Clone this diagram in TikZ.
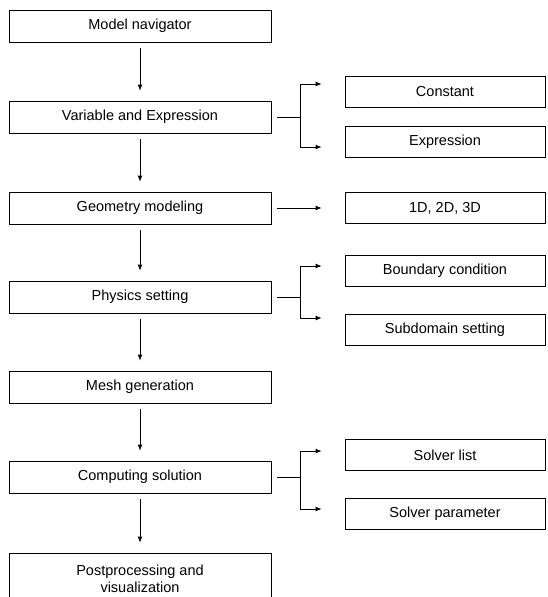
\documentclass[tikz,border=0pt]{standalone}
\usepackage{fontspec}
\setmainfont{Liberation Sans}
\usetikzlibrary{arrows.meta}

\begin{document}
\begin{tikzpicture}[x=1pt,y=-1pt,
box/.style={draw,line width=0.8pt,minimum width=262pt,minimum height=32pt,inner sep=2pt,font=\fontsize{14.5}{17}\selectfont},
sidebox/.style={box,minimum width=200pt,minimum height=31pt},
link/.style={line width=0.8pt},
arrow/.style={-{Latex[length=6pt,width=5pt]},line width=0.8pt},
down/.style={arrow,shorten <=6pt,shorten >=10pt} ]

\useasboundingbox (0,0) rectangle (547,597);

% main chain
\node[box](nav) at (140,26) {Model navigator};
\node[box](var) at (140,117) {Variable and Expression};
\node[box](geo) at (140,208) {Geometry modeling};
\node[box](phy) at (140,297) {Physics setting};
\node[box](msh) at (140,387) {Mesh generation};
\node[box](cmp) at (140,477) {Computing solution};
\node[box,minimum height=52pt,align=center](post) at (140,579) {Postprocessing and\\visualization};

% side boxes
\node[sidebox](con) at (445,92) {Constant};
\node[sidebox](expr) at (445,142) {Expression};
\node[sidebox](dim) at (445,208) {1D, 2D, 3D};
\node[sidebox](bnd) at (445,271) {Boundary condition};
\node[sidebox](sub) at (445,330) {Subdomain setting};
\node[sidebox](slv) at (445,455) {Solver list};
\node[sidebox](par) at (445,514) {Solver parameter};

\draw[down] (nav) -- (var);
\draw[down] (var) -- (geo);
\draw[down] (geo) -- (phy);
\draw[down] (phy) -- (msh);
\draw[down] (msh) -- (cmp);
\draw[down] (cmp) -- (post);

\draw[link] ([xshift=6pt]var.east) -- ++(23,0) coordinate (vbr);
\draw[arrow] (vbr) |- ([xshift=-23pt,yshift=8pt]con.west);
\draw[arrow] (vbr) |- ([xshift=-23pt,yshift=-5pt]expr.west);

\draw[arrow] ([xshift=6pt]geo.east) -- ([xshift=-23pt]dim.west);

\draw[link] ([xshift=6pt]phy.east) -- ++(23,0) coordinate (pbr);
\draw[arrow] (pbr) |- ([xshift=-23pt,yshift=5pt]bnd.west);
\draw[arrow] (pbr) |- ([xshift=-23pt,yshift=12pt]sub.west);

\draw[link] ([xshift=6pt]cmp.east) -- ++(23,0) coordinate (cbr);
\draw[arrow] (cbr) |- ([xshift=-23pt,yshift=4pt]slv.west);
\draw[arrow] (cbr) |- ([xshift=-23pt,yshift=5pt]par.west);
\end{tikzpicture}
\end{document}
